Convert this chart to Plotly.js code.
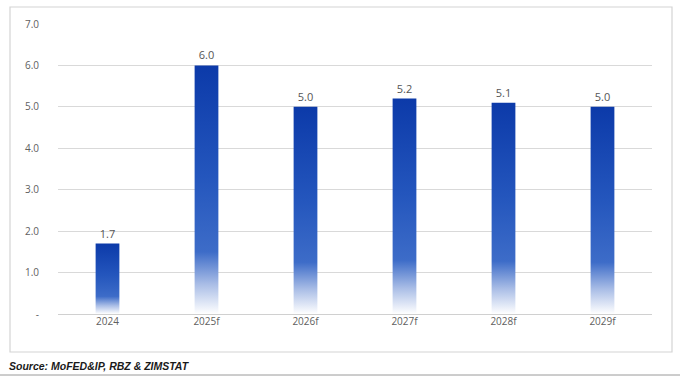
<!DOCTYPE html>
<html>
<head>
<meta charset="utf-8">
<script src="https://cdn.plot.ly/plotly-3.0.1.min.js"></script>
<style>
html,body{margin:0;padding:0;background:#fff;}
#chart{width:680px;height:380px;}
</style>
</head>
<body>
<div id="chart"></div>
<script>
const categories = ["2024", "2025f", "2026f", "2027f", "2028f", "2029f"];
const growth = [1.7, 6.0, 5.0, 5.2, 5.1, 5.0];
const yTickVals = [0, 1, 2, 3, 4, 5, 6, 7];
const yTickText = ["-", "1.0", "2.0", "3.0", "4.0", "5.0", "6.0", "7.0"];
const sourceText = "Source: MoFED&IP, RBZ & ZIMSTAT";

const trace = {
  type: "bar",
  x: categories,
  y: growth,
  width: 0.24,
  marker: {color: "#1a48b4", line: {width: 0}},
  text: growth.map(v => v.toFixed(1)),
  textposition: "outside",
  cliponaxis: false,
  textfont: {family: "Open Sans, Liberation Sans, sans-serif", size: 11, color: "#555555"},
  hoverinfo: "none"
};

const layout = {
  width: 680, height: 380,
  margin: {l: 58, r: 28, t: 24, b: 66},
  paper_bgcolor: "#ffffff",
  plot_bgcolor: "#ffffff",
  showlegend: false,
  xaxis: {
    type: "category",
    showgrid: false,
    zeroline: false,
    showline: false,
    ticks: "",
    tickfont: {family: "Open Sans, Liberation Sans, sans-serif", size: 10, color: "#606060"}
  },
  yaxis: {
    range: [0, 7],
    tickvals: yTickVals,
    ticktext: yTickText,
    showgrid: true,
    gridcolor: "#d9d9d9",
    gridwidth: 1,
    zeroline: true,
    zerolinecolor: "#d0d0d0",
    zerolinewidth: 1,
    showline: false,
    ticks: "",
    ticklabelstandoff: 18,
    tickfont: {family: "Open Sans, Liberation Sans, sans-serif", size: 10, color: "#606060"}
  },
  shapes: [
    {type: "rect", xref: "paper", yref: "paper",
     x0: -48/594, x1: 614/594, y0: -38/290, y1: 1 + 17/290,
     line: {color: "#d4d4d4", width: 1.2}, fillcolor: "rgba(0,0,0,0)", layer: "below"},
    {type: "line", xref: "paper", yref: "paper",
     x0: -58/594, x1: 622/594, y0: -61/290, y1: -61/290,
     line: {color: "#9a9a9a", width: 1}}
  ],
  annotations: [
    {text: "<b><i>" + sourceText + "</i></b>",
     xref: "paper", yref: "paper", x: -51/594, y: -44/290,
     xanchor: "left", yanchor: "top", showarrow: false,
     font: {family: "Liberation Sans, Arial, sans-serif", size: 10.5, color: "#1a1a1a"}}
  ]
};

Plotly.newPlot("chart", [trace], layout, {displayModeBar: false, staticPlot: true}).then(gd => {
  const svg = gd.querySelector("svg.main-svg");
  const ns = "http://www.w3.org/2000/svg";
  let defs = svg.querySelector("defs");
  if (!defs) { defs = document.createElementNS(ns, "defs"); svg.insertBefore(defs, svg.firstChild); }
  const grad = document.createElementNS(ns, "linearGradient");
  grad.setAttribute("id", "barGrad");
  grad.setAttribute("x1", "0"); grad.setAttribute("y1", "0");
  grad.setAttribute("x2", "0"); grad.setAttribute("y2", "1");
  const stops = [[0, "#0c3aa9"], [0.45, "#2456bd"], [0.75, "#3d6cc8"], [0.88, "#a9bde6"], [1, "#ffffff"]];
  stops.forEach(([o, c]) => {
    const s = document.createElementNS(ns, "stop");
    s.setAttribute("offset", o);
    s.setAttribute("stop-color", c);
    grad.appendChild(s);
  });
  defs.appendChild(grad);
  gd.querySelectorAll(".barlayer .point path").forEach(p => {
    p.style.fill = "url(#barGrad)";
  });
});
</script>
</body>
</html>
